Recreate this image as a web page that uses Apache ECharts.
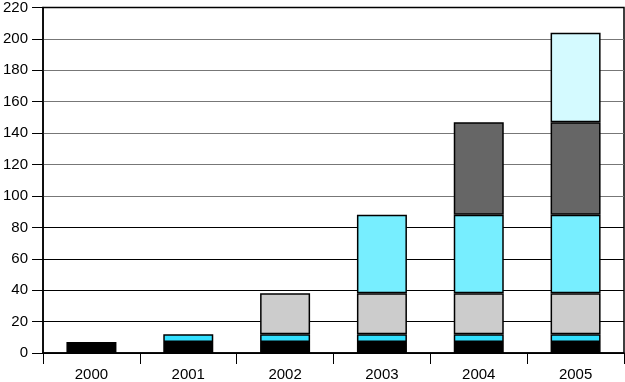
<!DOCTYPE html>
<html><head><meta charset="utf-8">
<script src="https://cdn.jsdelivr.net/npm/echarts@6/dist/echarts.min.js"></script>
<style>html,body{margin:0;padding:0;background:#fff}#c{width:625px;height:382px}</style>
</head><body><div id="c"></div>
<script>
const categories = ['2000','2001','2002','2003','2004','2005'];
const s1 = [7, 7, 7, 7, 7, 7];
const s2 = ['-', 5, 5, 5, 5, 5];
const s3 = ['-', '-', 26, 26, 26, 26];
const s4 = ['-', '-', '-', 50, 50, 50];
const s5 = ['-', '-', '-', '-', 59, 59];
const s6 = ['-', '-', '-', '-', '-', 57];
const yTicks = {min: 0, max: 220, interval: 20};
const colors = ['#000000', '#33E0FF', '#CCCCCC', '#77EEFF', '#666666', '#D4FAFF'];
const seriesData = [s1, s2, s3, s4, s5, s6];

const chart = echarts.init(document.getElementById('c'));
const font = 'Liberation Sans, Arial, sans-serif';
chart.setOption({
  animation: false,
  grid: {left: 41, right: 1, top: 5, bottom: 27, show: true, borderColor: '#000', borderWidth: 1.5},
  xAxis: {
    type: 'category', data: categories,
    axisLine: {lineStyle: {color: '#000', width: 1.5}},
    axisTick: {show: true, length: 11, lineStyle: {color: '#000'}},
    axisLabel: {color: '#000', fontSize: 15, fontFamily: font, margin: 14}
  },
  yAxis: {
    type: 'value', min: yTicks.min, max: yTicks.max, interval: yTicks.interval,
    axisLine: {show: true, lineStyle: {color: '#000', width: 1.5}},
    axisTick: {show: true, length: 11, lineStyle: {color: '#000'}},
    axisLabel: {color: '#000', fontSize: 15, fontFamily: font, margin: 15},
    splitLine: {lineStyle: {color: ['#000','#000','#000','#000','#000','#777','#777','#777','#777','#777','#777','#000'], width: 1.2}}
  },
  series: seriesData.map((d, i) => ({
    type: 'bar', stack: 'a', data: d, barWidth: 50,
    itemStyle: {color: colors[i], borderColor: '#000', borderWidth: 1.5}
  }))
});
</script></body></html>
